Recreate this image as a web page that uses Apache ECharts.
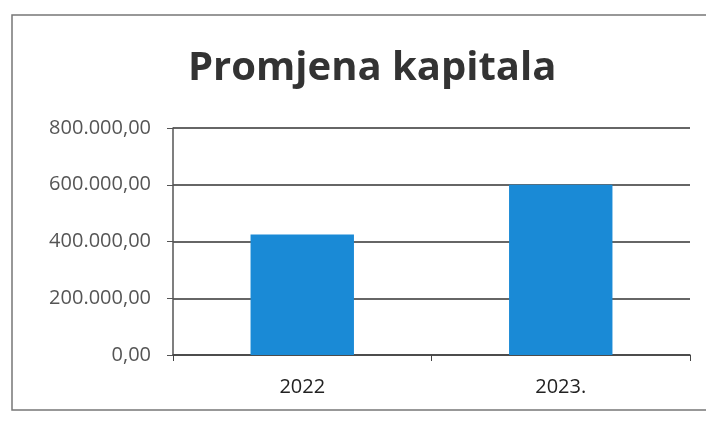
<!DOCTYPE html>
<html>
<head>
<meta charset="utf-8">
<script src="https://cdn.jsdelivr.net/npm/echarts@6/dist/echarts.min.js"></script>
<style>
  html, body { margin: 0; padding: 0; background: #fff; }
  #chart { width: 706px; height: 424px; }
</style>
</head>
<body>
<div id="chart"></div>
<script>
const categories = ['2022', '2023.'];
const values = [425000, 600000];
const yTicks = [0, 200000, 400000, 600000, 800000];

const myChart = echarts.init(document.getElementById('chart'));

function formatHr(v) {
    // 800000 -> 800.000,00
    const s = Math.round(v).toString().replace(/\B(?=(\d{3})+(?!\d))/g, '.');
    return s + ',00';
}

const option = {
    animation: false,
    title: {
        text: 'Promjena kapitala',
        left: 183,
        top: 44,
        textStyle: {
            fontFamily: 'Open Sans',
            fontSize: 40,
            fontWeight: 'bold',
            color: '#333'
        }
    },
    graphic: [{
        type: 'rect',
        shape: { x: 12, y: 15, width: 720, height: 395 },
        style: { fill: 'none', stroke: '#777', lineWidth: 1.5 }
    }],
    grid: {
        left: 173,
        right: 16,
        top: 128,
        bottom: 69
    },
    xAxis: {
        type: 'category',
        data: categories,
        boundaryGap: true,
        axisLine: { lineStyle: { color: '#444', width: 1.5 } },
        axisTick: { show: true, length: 6, lineStyle: { color: '#444' } },
        axisLabel: {
            margin: 22,
            fontFamily: 'Open Sans',
            fontSize: 20,
            color: '#222'
        }
    },
    yAxis: {
        type: 'value',
        min: yTicks[0],
        max: yTicks[yTicks.length - 1],
        interval: yTicks[1] - yTicks[0],
        axisLine: { show: true, lineStyle: { color: '#555', width: 1.5 } },
        axisTick: { show: true, length: 6, lineStyle: { color: '#555' } },
        splitLine: { lineStyle: { color: '#333', width: 1.5 } },
        axisLabel: {
            margin: 22,
            fontFamily: 'Open Sans',
            fontSize: 20,
            color: '#555',
            formatter: formatHr
        }
    },
    series: [{
        type: 'bar',
        data: values,
        barWidth: '40%',
        itemStyle: { color: '#1a8ad6' }
    }]
};

myChart.setOption(option);
</script>
</body>
</html>
